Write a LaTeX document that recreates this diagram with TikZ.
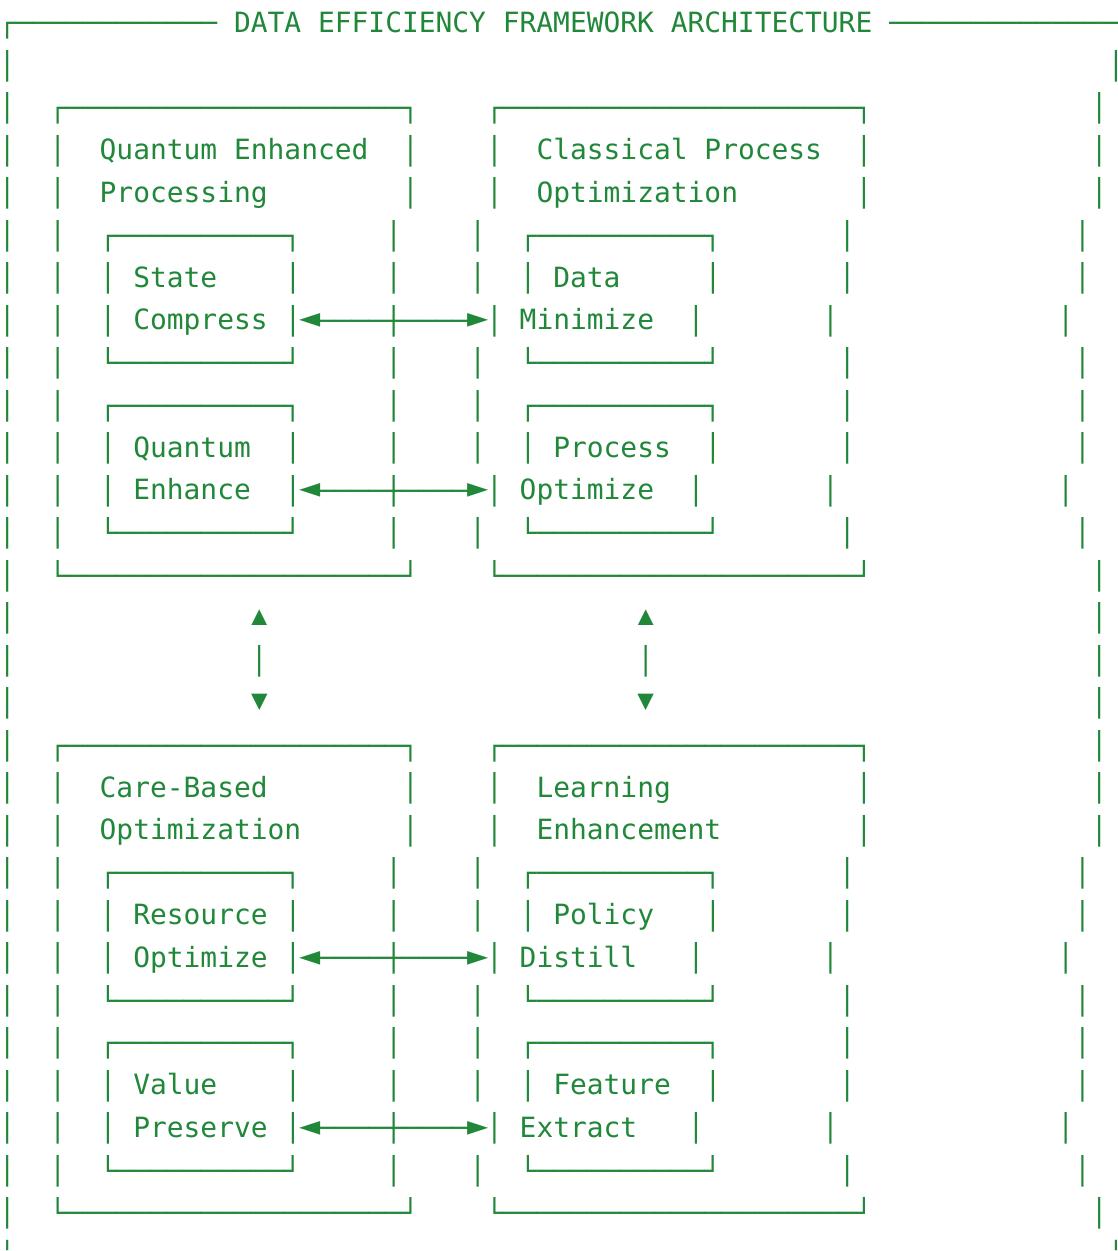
\documentclass[tikz,border=0pt]{standalone}
\usepackage{fontspec}
\usepackage{graphicx}
\newfontfamily\monoglyph{DejaVu Sans Mono}
\newcommand\glyphfont{\monoglyph\fontsize{27.9}{42.5}\selectfont}
\definecolor{ink}{RGB}{33,136,58}
\newsavebox\gbox
\newdimen\gh \newdimen\gd
\newcommand\measureglyph[3]{\sbox\gbox{\glyphfont #1}\gh=\ht\gbox \gd=\dp\gbox
  \ifdim\dimexpr\gh+\gd\relax<1pt \gh=#2pt \gd=#3pt \fi}
\tikzset{
  cellnode/.style={anchor=base west, inner sep=0pt, outer sep=0pt, font=\glyphfont, text=ink},
  tipnode/.style={anchor=base, inner sep=0pt, outer sep=0pt, font=\glyphfont, text=ink},
  lastnode/.style={anchor=south west, inner sep=0pt, outer sep=0pt, font=\glyphfont, text=ink}
}
% label text at cell (col,row)
\newcommand\putc[3]{\node[cellnode] (t-#1-#2) at ({cl(#1)},{by(#2)}) {#3};}
% box-drawing text, squeezed to the reference's stroke length
\newcommand\putb[3]{\node[cellnode] (b-#1-#2) at ({cl(#1)},{by(#2)}) {\raisebox{\rv pt}{\scalebox{1}[\sv]{#3}}};}
\newcommand\putbw[4]{\node[cellnode] (b-#1-#2) at ({cl(#1)},{by(#2)}) {\raisebox{\rv pt}{\scalebox{#3}[\sv]{#4}}};}
\newcommand\putedge[2]{\node[cellnode] (b-#1-#2) at ({cl(#1)},{by(#2)}) {\makebox[9.9pt][l]{\raisebox{\rv pt}{\scalebox{1}[\sv]{│}}}};}
\newcommand\putlast[1]{\node[lastnode] (b-#1-29) at ({cl(#1)},-1250.6) {\makebox[9.9pt][l]{\scalebox{1}[\slast]{│}}};}
\newcommand\vbs[2]{\foreach \k in {#1}{\putb{\k}{#2}{│}}}
% arrow-head glyphs
\newcommand\tleft[2]{\node[tipnode] (h-#1-#2) at ({cx(#1)},{by(#2)}) {\raisebox{\rl pt}{\scalebox{\sl}{◄}}};}
\newcommand\tright[2]{\node[tipnode] (h-#1-#2) at ({cx(#1)},{by(#2)}) {\raisebox{\rr pt}{\scalebox{\sr}{►}}};}
\newcommand\tup[2]{\node[tipnode] (h-#1-#2) at ({cx(#1)},{by(#2)}) {\raisebox{\ru pt}{\scalebox{\su}{▲}}};}
\newcommand\tdown[2]{\node[tipnode] (h-#1-#2) at ({cx(#1)},{by(#2)}) {\raisebox{\rd pt}{\scalebox{\sd}{▼}}};}
% row patterns
\newcommand\outertop[1]{\vbs{0,65}{#1}\putb{3}{#1}{┌────────────────────┐}\putb{29}{#1}{┌─────────────────────┐}}
\newcommand\outerbot[1]{\vbs{0,65}{#1}\putb{3}{#1}{└────────────────────┘}\putb{29}{#1}{└─────────────────────┘}}
\newcommand\titlerow[3]{\vbs{0,3,24,29,51,65}{#1}\putc{6}{#1}{#2}\putc{32}{#1}{#3}}
\newcommand\innertop[1]{\vbs{0,3,23,28,50,64}{#1}\putb{6}{#1}{┌──────────┐}\putb{31}{#1}{┌──────────┐}}
\newcommand\innerbot[1]{\vbs{0,3,23,28,50,64}{#1}\putb{6}{#1}{└──────────┘}\putb{31}{#1}{└──────────┘}}
\newcommand\labelrow[3]{\vbs{0,3,6,17,23,28,31,42,50,64}{#1}\putc{8}{#1}{#2}\putc{33}{#1}{#3}}
\newcommand\arrowrow[3]{\vbs{0,3,6,17,29,41,49,63}{#1}\putc{8}{#1}{#2}\putc{31}{#1}{#3}%
  \tleft{18}{#1}\putb{19}{#1}{────┼────}\tright{28}{#1}}
\begin{document}
\measureglyph{│}{26.17}{6.97}%
\pgfmathsetmacro\sv{31.7/(\gh+\gd)}\pgfmathsetmacro\rv{24.8-\sv*\gh}%
\pgfmathsetmacro\slast{10.4/(\gh+\gd)}%
\measureglyph{◄}{12.66}{0}%
\pgfmathsetmacro\sl{16/(\gh+\gd)}\pgfmathsetmacro\rl{0.3+\sl*\gd}%
\measureglyph{►}{12.66}{0}%
\pgfmathsetmacro\sr{16/(\gh+\gd)}\pgfmathsetmacro\rr{0.3+\sr*\gd}%
\measureglyph{▲}{15.56}{1.06}%
\pgfmathsetmacro\su{15.7/(\gh+\gd)}\pgfmathsetmacro\ru{1.6+\su*\gd}%
\measureglyph{▼}{15.56}{1.06}%
\pgfmathsetmacro\sd{16.4/(\gh+\gd)}\pgfmathsetmacro\rd{1.6+\sd*\gd}%
\begin{tikzpicture}[x=1pt,y=1pt,
  declare function={cl(\x)=-1.1+16.8*\x; cx(\x)=-1.1+16.8*(\x+0.5); by(\x)=-32.3-42.5*\x;}]
\useasboundingbox (0,0) rectangle (1118,-1251);
\fill[white] (0,0) rectangle (1118,-1251);
\clip (0,0) rectangle (1118,-1251);
% row 0: title line
\putb{0}{0}{┌────────────}
\putc{14}{0}{DATA EFFICIENCY FRAMEWORK ARCHITECTURE}
\putbw{53}{0}{0.972}{──────────────}
\putb{0}{1}{│}\putedge{66}{1}
\outertop{2}
\titlerow{3}{Quantum Enhanced}{Classical Process}
\titlerow{4}{Processing}{Optimization}
\innertop{5}
\labelrow{6}{State}{Data}
\arrowrow{7}{Compress}{Minimize}
\innerbot{8}
\innertop{9}
\labelrow{10}{Quantum}{Process}
\arrowrow{11}{Enhance}{Optimize}
\innerbot{12}
\outerbot{13}
\vbs{0,65}{14}\tup{15}{14}\tup{38}{14}
\vbs{0,15,38,65}{15}
\vbs{0,65}{16}\tdown{15}{16}\tdown{38}{16}
\outertop{17}
\titlerow{18}{Care-Based}{Learning}
\titlerow{19}{Optimization}{Enhancement}
\innertop{20}
\labelrow{21}{Resource}{Policy}
\arrowrow{22}{Optimize}{Distill}
\innerbot{23}
\innertop{24}
\labelrow{25}{Value}{Feature}
\arrowrow{26}{Preserve}{Extract}
\innerbot{27}
\outerbot{28}
\putlast{0}\putlast{66}
\end{tikzpicture}
\end{document}
